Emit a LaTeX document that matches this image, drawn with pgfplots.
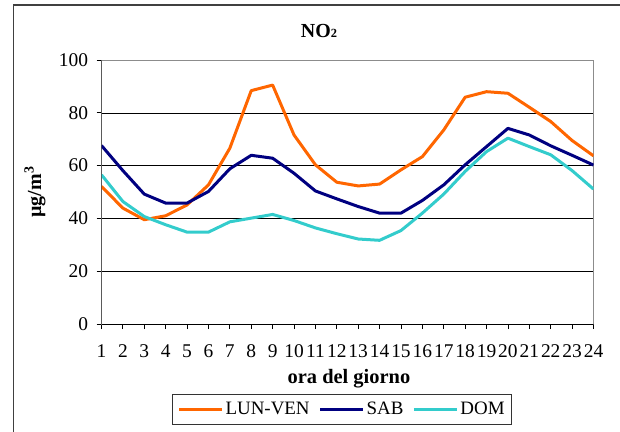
\documentclass[border=0pt]{standalone}
\usepackage{fontspec}
\setmainfont{Liberation Serif}
\usepackage{pgfplots}
\pgfplotsset{compat=1.18}
\definecolor{lunven}{HTML}{FF6600}
\definecolor{sab}{HTML}{000080}
\definecolor{dom}{HTML}{33CCCC}
\begin{document}
\begin{tikzpicture}
\path[use as bounding box] (0bp,0bp) rectangle (620bp,-432bp);
\draw[line width=1.2bp, black!75] (13.5bp,-432bp) -- (13.5bp,-5bp) -- (620bp,-5bp);
\begin{axis}[
  at={(101.5bp,-324bp)}, anchor=south west,
  scale only axis, width=492bp, height=264bp,
  xmin=1, xmax=24, ymin=0, ymax=100,
  xtick={1,...,24}, ytick={0,20,...,100},
  xtick pos=bottom, ytick pos=left,
  tick align=outside, major tick length=5bp,
  tick style={black, line width=0.8bp},
  axis line style={black!45, line width=1bp},
  ymajorgrids, grid style={black, line width=0.6bp},
  /pgf/number format/assume math mode=true,
  tick label style={font=\fontsize{19.5}{21}\selectfont},
  xticklabel style={inner xsep=0pt, yshift=-12bp},
  yticklabel style={xshift=-5bp},
  title={NO{\fontsize{12.5}{14}\selectfont 2}},
  title style={at={(axis description cs:0.442,1)}, anchor=base, yshift=17bp,
    font=\bfseries\fontsize{20}{22}\selectfont},
  xlabel={ora del giorno},
  xlabel style={at={(axis description cs:0.503,0)}, anchor=base, yshift=-59bp,
    font=\bfseries\fontsize{20.5}{22}\selectfont},
  ylabel={µg/m\textsuperscript{3}},
  ylabel style={at={(axis description cs:0,0.5)}, anchor=base, yshift=60.5bp,
    font=\bfseries\fontsize{20}{22}\selectfont},
  legend columns=3,
  legend style={at={(axis description cs:0.489,0)}, anchor=north, yshift=-70bp,
    draw=black!80, line width=0.8bp, font=\fontsize{19}{21}\selectfont,
    /tikz/every even column/.append style={column sep=7bp},
    inner xsep=5bp, inner ysep=6bp},
  legend image code/.code={\draw[#1] (0bp,0bp) -- (43bp,0bp);},
  every axis plot/.append style={line width=3bp, line join=round},
]
\addplot[lunven] coordinates {
(1,52.1) (2,43.9) (3,39.5) (4,41.0) (5,45.1) (6,52.7) (7,66.6) (8,88.4)
(9,90.5) (10,71.6) (11,60.3) (12,53.7) (13,52.3) (14,53.0) (15,58.4) (16,63.4)
(17,73.5) (18,85.9) (19,88.0) (20,87.4) (21,82.1) (22,76.7) (23,69.5) (24,63.7)};
\addlegendentry{LUN-VEN}
\addplot[sab] coordinates {
(1,67.6) (2,58.1) (3,49.2) (4,45.8) (5,45.8) (6,50.2) (7,58.8) (8,63.9)
(9,62.8) (10,57.1) (11,50.4) (12,47.4) (13,44.5) (14,42.0) (15,42.0) (16,46.8)
(17,52.7) (18,60.3) (19,67.2) (20,74.1) (21,71.6) (22,67.5) (23,63.9) (24,60.2)};
\addlegendentry{SAB}
\addplot[dom] coordinates {
(1,56.5) (2,46.4) (3,40.7) (4,37.6) (5,34.8) (6,34.8) (7,38.7) (8,40.1)
(9,41.5) (10,39.2) (11,36.4) (12,34.2) (13,32.2) (14,31.7) (15,35.4) (16,42.0)
(17,49.2) (18,57.8) (19,65.3) (20,70.4) (21,67.2) (22,64.1) (23,58.1) (24,51.1)};
\addlegendentry{DOM}
\draw[black, line width=1bp] (axis cs:1,100) -- (axis cs:1,0) -- (axis cs:24,0);
\end{axis}
\end{tikzpicture}
\end{document}
